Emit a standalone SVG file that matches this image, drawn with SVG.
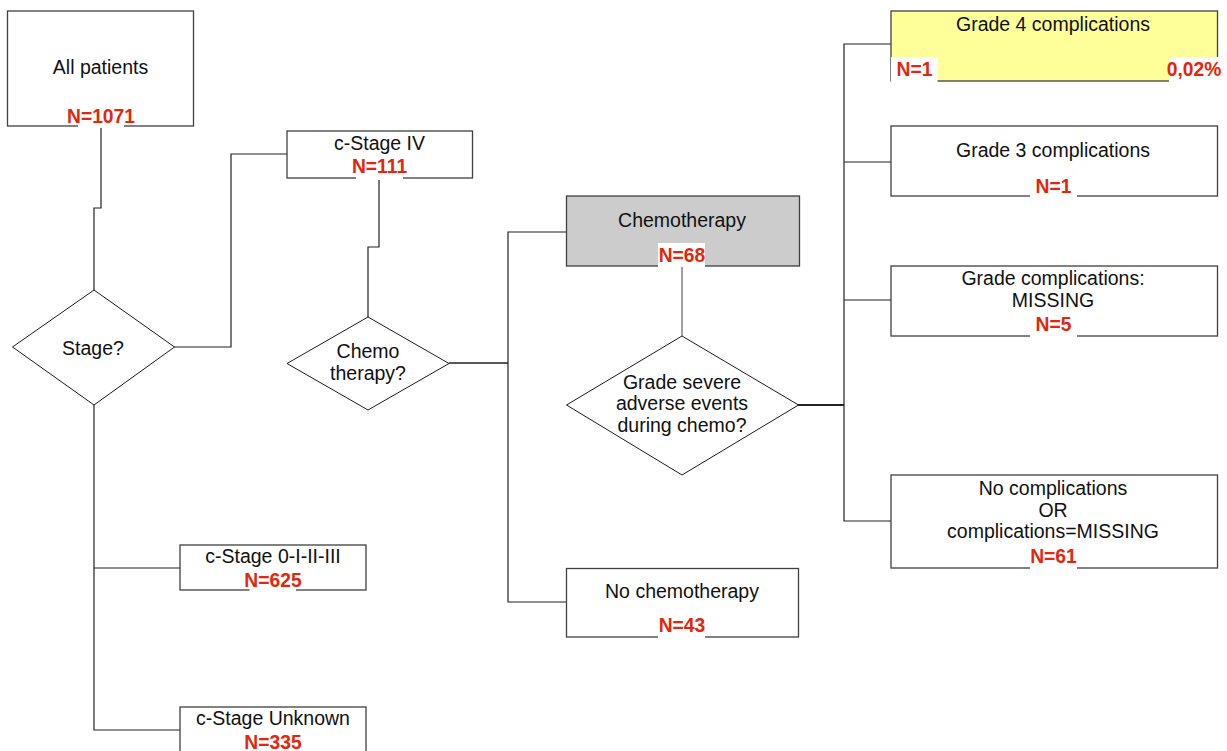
<svg xmlns="http://www.w3.org/2000/svg" width="1227" height="751" viewBox="0 0 1227 751">
<style>
.box{fill:#fff;stroke:#404040;stroke-width:1.3}
.dia{fill:#fff;stroke:#1a1a1a;stroke-width:1}
.c{fill:none;stroke:#222;stroke-width:1.2}
.t{font-family:"Liberation Sans",Arial,sans-serif;font-size:19.5px;fill:#111;text-anchor:middle}
.n{font-family:"Liberation Sans",Arial,sans-serif;font-size:19.3px;font-weight:bold;fill:#e3260c;text-anchor:middle}
.bg{fill:#fff}
</style>
<rect width="1227" height="751" fill="#fff"/>
<g id="connectors">
<polyline class="c" points="101,126 101,208 94,208 94,290"/>
<polyline class="c" points="174,347 231,347 231,154 287,154"/>
<polyline class="c" points="94,405 94,730 180,730"/>
<polyline class="c" points="94,568 180,568"/>
<polyline class="c" points="379,178 379,247 368,247 368,317"/>
<polyline class="c" style="stroke-width:1.6" points="449,363 508,363"/>
<polyline class="c" points="566,232 508,232 508,602 566,602"/>
<polyline class="c" style="stroke:#808080;stroke-width:1.5" points="682,266 682,336"/>
<polyline class="c" style="stroke-width:2" points="798,405 844,405"/>
<polyline class="c" points="891,44 844,44 844,521 891,521"/>
<polyline class="c" points="844,162 891,162"/>
<polyline class="c" points="844,300 891,300"/>
</g>
<g id="all-patients">
<rect class="box" x="7.5" y="11" width="186" height="115"/>
<text class="t" x="100.5" y="74">All patients</text>
<rect class="bg" x="78" y="104" width="46" height="24"/>
<text class="n" x="101" y="123">N=1071</text>
</g>
<g id="stage-q">
<polygon class="dia" points="94,290 174.5,347 94,405 12.5,347"/>
<text class="t" x="93" y="355">Stage?</text>
</g>
<g id="stage-iv">
<rect class="box" x="287" y="131" width="185.5" height="47"/>
<text class="t" x="379.5" y="150">c-Stage IV</text>
<rect class="bg" x="356" y="158" width="47" height="22"/>
<text class="n" x="379.5" y="173">N=111</text>
</g>
<g id="stage-0-iii">
<rect class="box" x="180" y="545" width="186" height="45"/>
<text class="t" x="273" y="562.5">c-Stage 0-I-II-III</text>
<rect class="bg" x="249.5" y="571" width="46.5" height="21"/>
<text class="n" x="273" y="586.5">N=625</text>
</g>
<g id="stage-unknown">
<rect class="box" x="180" y="707" width="186" height="50"/>
<text class="t" x="273" y="725">c-Stage Unknown</text>
<rect class="bg" x="249.5" y="733" width="46.5" height="20"/>
<text class="n" x="273" y="749">N=335</text>
</g>
<g id="chemo-q">
<polygon class="dia" points="368,317 449,363.5 368,410 287,363.5"/>
<text class="t" x="368" y="357.5">Chemo</text>
<text class="t" x="368" y="380">therapy?</text>
</g>
<g id="chemotherapy">
<rect class="box" style="fill:#cccccc" x="566.5" y="196" width="233" height="70"/>
<text class="t" x="682" y="226.5">Chemotherapy</text>
<rect class="bg" x="658" y="243" width="47" height="24"/>
<text class="n" x="682" y="261.5">N=68</text>
</g>
<g id="no-chemotherapy">
<rect class="box" x="566.5" y="568.5" width="232" height="68.5"/>
<text class="t" x="682" y="598">No chemotherapy</text>
<rect class="bg" x="658" y="616" width="47" height="22"/>
<text class="n" x="682" y="631.5">N=43</text>
</g>
<g id="grade-q">
<polygon class="dia" points="682,336 798.5,405 682,475 566.5,405"/>
<text class="t" x="682" y="388.5">Grade severe</text>
<text class="t" x="682" y="410">adverse events</text>
<text class="t" x="682" y="431.5">during chemo?</text>
</g>
<g id="grade4">
<rect class="box" style="fill:#ffff99" x="891" y="11" width="326.5" height="70"/>
<text class="t" x="1053" y="31">Grade 4 complications</text>
<rect class="bg" x="891" y="57" width="46.5" height="25"/>
<text class="n" x="914.5" y="76">N=1</text>
<rect class="bg" x="1169" y="57" width="53" height="25"/>
<text class="n" x="1194" y="76">0,02%</text>
</g>
<g id="grade3">
<rect class="box" x="891" y="126" width="326.5" height="70"/>
<text class="t" x="1053" y="156.5">Grade 3 complications</text>
<rect class="bg" x="1030" y="176" width="47" height="22"/>
<text class="n" x="1053.5" y="193">N=1</text>
</g>
<g id="grade-missing">
<rect class="box" x="891" y="266" width="326.5" height="70"/>
<text class="t" x="1053" y="285">Grade complications:</text>
<text class="t" x="1053" y="306.5">MISSING</text>
<rect class="bg" x="1030" y="315" width="47" height="23"/>
<text class="n" x="1053.5" y="331">N=5</text>
</g>
<g id="no-complications">
<rect class="box" x="891" y="475" width="326.5" height="93"/>
<text class="t" x="1053" y="495">No complications</text>
<text class="t" x="1053" y="516.5">OR</text>
<text class="t" x="1053" y="538">complications=MISSING</text>
<rect class="bg" x="1030" y="547" width="47" height="23"/>
<text class="n" x="1053.5" y="563">N=61</text>
</g>
</svg>
